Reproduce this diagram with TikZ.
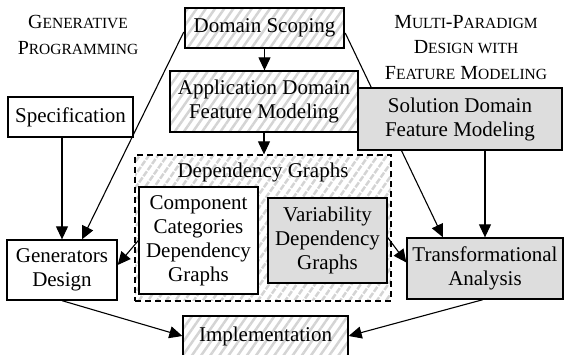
\documentclass[tikz,border=0pt]{standalone}
\usepackage{fontspec}
\setmainfont{Liberation Serif}
\usetikzlibrary{arrows.meta,patterns.meta,backgrounds}
\definecolor{boxgray}{RGB}{221,221,221}
\definecolor{hatchgray}{RGB}{212,212,212}
\newcommand\smc[1]{{\fontsize{15.5}{18}\selectfont #1}}
\begin{document}
\begin{tikzpicture}[x=1pt,y=-1pt,
  box/.style={draw, line width=1.3pt, align=center, inner sep=0pt, font=\fontsize{21}{24}\selectfont},
  hatched/.style={box, pattern={Lines[angle=55,distance=7.5pt,line width=2.5pt]}, pattern color=hatchgray},
  shaded/.style={box, fill=boxgray},
  plain/.style={box, fill=white},
  conn/.style={line width=1.1pt, -{Triangle[length=13pt,width=12pt]}},
  title/.style={align=center, font=\fontsize{20}{25.5}\selectfont},
  lbl/.style={font=\fontsize{21}{24}\selectfont, inner sep=0pt}]
\useasboundingbox (0,0) rectangle (565,355);
% nodes
\node[hatched, minimum width=159pt, minimum height=40pt] (ds) at (264.5,28) {Domain Scoping};
\node[hatched, minimum width=188pt, minimum height=61pt] (ad) at (264,101.5) {Application Domain\\Feature Modeling};
\node[hatched, dash pattern=on 6pt off 4pt, minimum width=256pt, minimum height=146pt] (dg) at (263,228) {};
\node[lbl] (dgl) at (263,172) {Dependency Graphs};
\node[plain, minimum width=119pt, minimum height=107pt] (cc) at (198.5,240.5) {Component\\Categories\\Dependency\\Graphs};
\node[shaded, minimum width=119pt, minimum height=85pt] (vd) at (327.5,240.5) {Variability\\Dependency\\Graphs};
\node[plain, minimum width=125pt, minimum height=40pt] (sp) at (70.5,117) {Specification};
\node[plain, minimum width=110pt, minimum height=60pt] (gd) at (62,270) {Generators\\Design};
\node[shaded, minimum width=204pt, minimum height=62pt] (sd) at (460,119) {Solution Domain\\Feature Modeling};
\node[shaded, minimum width=156pt, minimum height=61pt] (ta) at (485,268.5) {Transformational\\Analysis};
\node[hatched, minimum width=165pt, minimum height=40pt] (im) at (265.5,336) {Implementation};
% titles
\node[title] (gp) at (78,35) {G\smc{ENERATIVE}\\P\smc{ROGRAMMING}};
\node[title] (mp) at (466,47.5) {M\smc{ULTI}-P\smc{ARADIGM}\\D\smc{ESIGN WITH}\\F\smc{EATURE} M\smc{ODELING}};
% connectors
\begin{pgfonlayer}{background}
\draw[conn] (ds.south) -- (ds.south |- ad.north);
\draw[conn] (ad.south) -- (ad.south |- dg.north);
\draw[conn] ([yshift=-4pt]ds.west) -- ([xshift=20pt]gd.north);
\draw[conn] (sp.south -| gd) -- (gd.north);
\draw[conn] ([yshift=-5pt]ds.east) -- ([xshift=-42pt]ta.north);
\draw[conn] (sd.south -| ta) -- (ta.north);
\draw[conn] (cc.west) -- ([yshift=5pt]gd.east);
\draw[conn] ([yshift=3pt]vd.east) -- ([yshift=6pt]ta.west);
\draw[conn] (gd.south) -- (im.west);
\draw[conn] ([xshift=-2pt]ta.south) -- (im.east);
\end{pgfonlayer}
\end{tikzpicture}
\end{document}
